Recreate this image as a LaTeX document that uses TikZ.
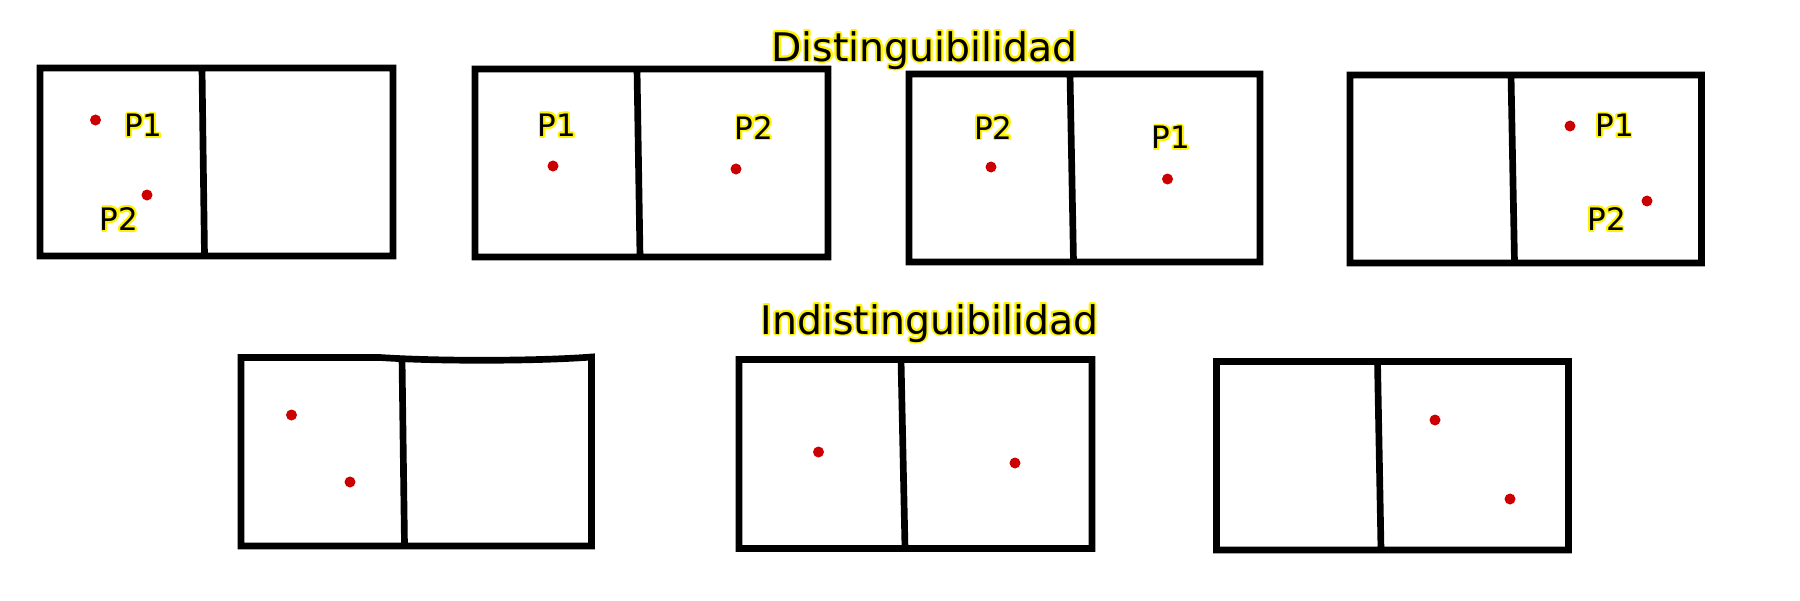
\documentclass[tikz,border=0pt]{standalone}
\usepackage{fontspec}
\setmainfont{DejaVu Sans}
\usepackage{contour}
\contourlength{0.5pt}
\definecolor{rojo}{HTML}{CC0000}

\begin{document}
\begin{tikzpicture}
  [x=0.01cm, y=-0.01cm,
   caja/.style={draw=black,
                line width=1.9pt},
   punto/.style={fill=rojo},
   etiqueta/.style={font=\fontsize{8.8}{10}\selectfont,
                    inner sep=0pt},
   titulo/.style={font=\fontsize{11.2}{13}\selectfont,
                  anchor=base,
                  inner sep=0pt},]
  \useasboundingbox (0,0) rectangle (1800,600);
  % titulos
  \node[titulo] (dist)   at (924.5,61)  {\contour{yellow}{Distinguibilidad}};
  \node[titulo] (indist) at (929.5,334) {\contour{yellow}{Indistinguibilidad}};
  % distinguibles
  \draw[caja] (40,68)   rectangle (393,256)   (202,68)    -- (204.5,256);
  \draw[caja] (475,69)  rectangle (828,257)   (637,69)    -- (640,257);
  \draw[caja] (909,74)  rectangle (1260,262)  (1070,74)   -- (1073.5,262);
  \draw[caja] (1350,75) rectangle (1701.5,263) (1511,75)  -- (1514.5,263);
  \fill[punto] (95.5,120)  circle (0.055cm)  (147,195)    circle (0.055cm);
  \fill[punto] (553,166)   circle (0.055cm)  (736,169)    circle (0.055cm);
  \fill[punto] (991,167)   circle (0.055cm)  (1167.5,179) circle (0.055cm);
  \fill[punto] (1570,126)  circle (0.055cm)  (1647,201)   circle (0.055cm);
  \node[etiqueta] (p1a) at (143.5,126.5) {\contour{yellow}{P1}};
  \node[etiqueta] (p2a) at (119,220)     {\contour{yellow}{P2}};
  \node[etiqueta] (p1b) at (557,126)     {\contour{yellow}{P1}};
  \node[etiqueta] (p2b) at (754,128.5)   {\contour{yellow}{P2}};
  \node[etiqueta] (p2c) at (993.5,128.5) {\contour{yellow}{P2}};
  \node[etiqueta] (p1c) at (1171,138.5)  {\contour{yellow}{P1}};
  \node[etiqueta] (p1d) at (1614.5,126.5){\contour{yellow}{P1}};
  \node[etiqueta] (p2d) at (1606.5,220)  {\contour{yellow}{P2}};
  % indistinguibles
  \draw[caja] (241,357.5) -- (380,357.5) .. controls (440,361.5) and (540,361) .. (591.5,357)
              -- (591.5,546) -- (241,546) -- cycle (402,357.5) -- (404.5,546);
  \draw[caja] (739,359.5)  rectangle (1092,548.5) (901,359.5)  -- (905,548.5);
  \draw[caja] (1216.5,361.5) rectangle (1568.5,550) (1377.5,361.5) -- (1381,550);
  \fill[punto] (291.5,415) circle (0.055cm)  (350,482)     circle (0.055cm);
  \fill[punto] (818.5,452) circle (0.055cm)  (1015,463)    circle (0.055cm);
  \fill[punto] (1435,420)  circle (0.055cm)  (1510,499)    circle (0.055cm);
\end{tikzpicture}
\end{document}
